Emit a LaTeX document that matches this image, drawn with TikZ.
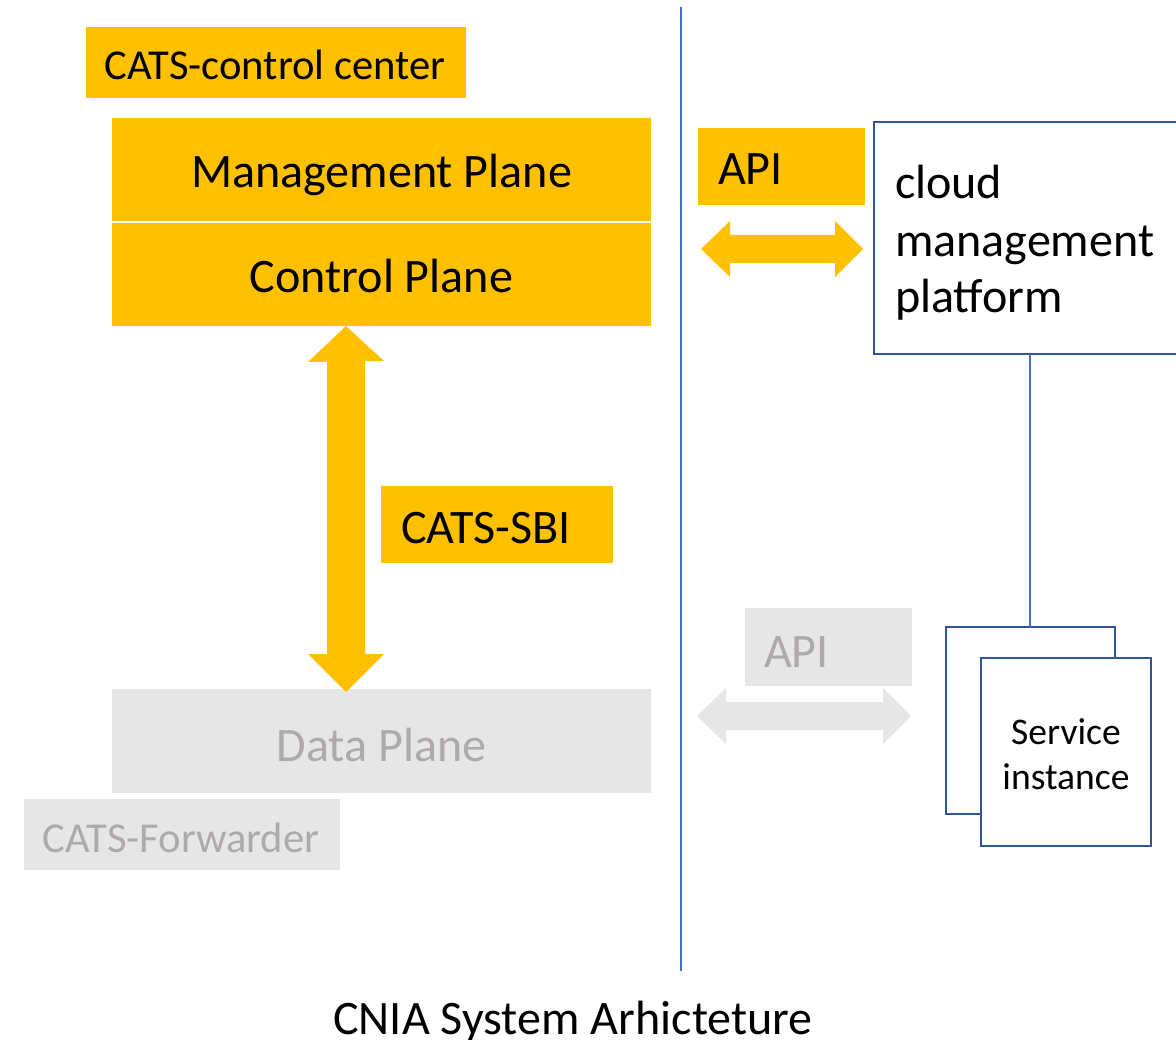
\documentclass[tikz,border=0pt]{standalone}
\usepackage{fontspec}
\setmainfont{Carlito}
\definecolor{catsorange}{HTML}{FFC000}
\definecolor{lightgraybox}{HTML}{E7E6E6}
\definecolor{graytext}{HTML}{AEAAAA}
\definecolor{thinblue}{HTML}{4472C4}
\definecolor{darkblue}{HTML}{2F5597}
\begin{document}
\begin{tikzpicture}[x=1pt,y=-1pt,
  box/.style={rectangle, inner sep=0pt, outer sep=0pt, anchor=north west},
  obox/.style={box, fill=catsorange},
  gbox/.style={box, fill=lightgraybox},
  wbox/.style={box, fill=white, draw=darkblue, line width=2.2pt},
  big/.style={font=\fontsize{48.1}{57}\selectfont},
  mid/.style={font=\fontsize{42.6}{50}\selectfont},
  small/.style={font=\fontsize{37.6}{45}\selectfont},
  txt/.style={inner sep=0pt, outer sep=0pt, text=black},
  gtxt/.style={inner sep=0pt, outer sep=0pt, text=graytext},
  thin/.style={draw=thinblue, line width=1.5pt}
]
\useasboundingbox (0,0) rectangle (1176,1040);
\clip (0,0) rectangle (1176,1040);

% divider
\coordinate (divtop) at (681,7);
\coordinate (divbot) at (681,971);
\draw[thin] (divtop) -- (divbot);

% left side boxes
\node[obox, minimum width=380pt, minimum height=71pt] (ccbox) at (86,27) {};
\node[txt, mid, anchor=base] (cctxt) at (275,80) {CATS-control center};

\node[obox, minimum width=539pt, minimum height=103pt] (mgmt) at (112,118) {};
\node[txt, big, anchor=base] (mgmttxt) at (381.5,188) {Management Plane};

\node[obox, minimum width=539pt, minimum height=103pt] (ctrl) at (112,223) {};
\node[txt, big, anchor=base] (ctrltxt) at (381.5,293) {Control Plane};

\node[gbox, minimum width=539pt, minimum height=104pt] (data) at (112,689) {};
\node[gtxt, big, anchor=base] (datatxt) at (381.5,761) {Data Plane};

\node[gbox, minimum width=316pt, minimum height=71pt] (fwd) at (24,799) {};
\node[gtxt, mid, anchor=base] (fwdtxt) at (181,852) {CATS-Forwarder};

% SBI vertical arrow
\coordinate (ax) at (346,0);
\coordinate (sbitop) at (ctrl.south -| ax);
\coordinate (sbibot) at (346,692);
\fill[catsorange] (sbitop) -- ++(38,35) -- ++(-19,0) -- (365,654) -- (384,654)
  -- (sbibot) -- (308,654) -- (327,654) -- (327,362) -- (308,362) -- cycle;

\node[obox, minimum width=232pt, minimum height=77pt] (sbibox) at (381,486) {};
\node[txt, big, anchor=base west] (sbitxt) at (401,543) {CATS-SBI};

% right side: API (orange)
\node[obox, minimum width=167pt, minimum height=77pt] (apibox) at (698,128) {};
\node[txt, big, anchor=base west] (apitxt) at (718,185) {API};
\fill[catsorange] (701,249) -- (730,221) -- (730,235) -- (835,235) -- (835,221)
  -- (863,249) -- (835,277) -- (835,263) -- (730,263) -- (730,277) -- cycle;

% cloud management platform
\node[wbox, minimum width=320pt, minimum height=232pt] (cloud) at (874,122) {};
\node[txt, big, anchor=base west] (cl1) at (895,199) {cloud};
\node[txt, big, anchor=base west] (cl2) at (895,257) {management};
\node[txt, big, anchor=base west] (cl3) at (895,313) {platform};

% service instances
\node[wbox, minimum width=169pt, minimum height=187pt] (svcback) at (946,627) {};
\node[wbox, minimum width=170pt, minimum height=188pt] (svc) at (981,658) {};
\node[txt, small, anchor=base] (svc1) at (1066,744) {Service};
\node[txt, small, anchor=base] (svc2) at (1066,789) {instance};

\coordinate (lx) at (1030,0);
\draw[thin] (cloud.south -| lx) -- (svcback.north -| lx);

% gray API
\node[gbox, minimum width=167pt, minimum height=78pt] (gapibox) at (745,608) {};
\node[gtxt, big, anchor=base west] (gapitxt) at (764,667) {API};
\fill[lightgraybox] (697,716) -- (726,688) -- (726,702) -- (883,702) -- (883,688)
  -- (911,716) -- (883,744) -- (883,730) -- (726,730) -- (726,744) -- cycle;

% title
\node[txt, big, anchor=base] (title) at (573,1034) {CNIA System Arhicteture};
\end{tikzpicture}
\end{document}
